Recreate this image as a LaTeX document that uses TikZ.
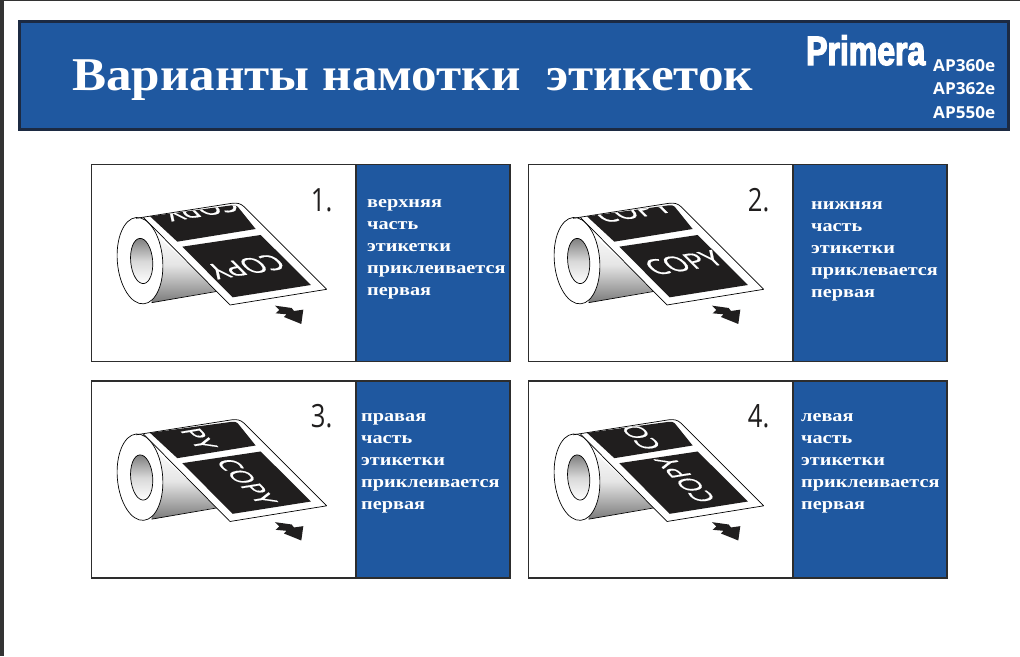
\documentclass[tikz,border=0pt]{standalone}
\usepackage{fontspec}
\setmainfont{Liberation Serif}
\newfontfamily\titlefnt[FakeStretch=1.088]{Liberation Serif}
\newfontfamily\panelfnt[FakeStretch=1.19]{Liberation Serif}
\newfontfamily\brandfnt[FakeStretch=0.78,FakeBold=3]{Liberation Sans}
\newfontfamily\modelfnt[FakeStretch=1.04]{Open Sans}
\newfontfamily\copyfnt[FakeBold=0.6]{Open Sans}
\newfontfamily\numfnt[FakeStretch=0.8]{Open Sans}
\definecolor{bannerblue}{RGB}{31,88,160}
\definecolor{bannerline}{RGB}{28,42,66}
\definecolor{cardline}{RGB}{45,45,45}
\definecolor{labelblack}{RGB}{32,30,30}
\tikzset{
  x=1pt,y=-1pt,
  cardbox/.style={draw=cardline,line width=1.5pt,fill=white,anchor=north west,inner sep=0,minimum width=418pt,minimum height=197pt},
  bluebox/.style={draw=cardline,line width=1.5pt,fill=bannerblue,anchor=north west,inner sep=0,minimum width=154pt,minimum height=197pt},
  paneltext/.style={text=white,anchor=north west,inner sep=0,align=left,font=\panelfnt\bfseries\fontsize{17}{22}\selectfont},
  numtext/.style={text=labelblack,inner sep=0,font=\numfnt\fontsize{32}{32}\selectfont},
  copytext/.style={text=white,inner sep=0,font=\copyfnt\fontsize{28}{28}\selectfont},
  rolline/.style={draw=black,line width=0.7pt},
  modeltext/.style={text=white,anchor=base west,inner sep=0,font=\modelfnt\bfseries\fontsize{16.5}{16.5}\selectfont},
  orientA/.style={cm={-0.987,-0.16,0.707,-0.707,(0,0)}},
  orientB/.style={cm={0.987,0.16,-0.707,0.707,(0,0)}},
  orientC/.style={cm={0.62,-0.62,0.95,0.154,(0,0)}},
  orientD/.style={cm={-0.62,0.62,-0.95,-0.154,(0,0)}},
}
% #1 x origin, #2 y origin, #3 number, #4 orientation, #5 id, #6,#7 main text, #8,#9 clipped text
\newcommand{\rollart}[9]{%
\begin{scope}[shift={(#1,#2)},x=0.3333pt,y=-0.3333pt]
  \path[top color=white,bottom color=black!52,middle color=black!10] (170,200) -- (385,392) -- (185,428) -- cycle;
  \draw[rolline] (185,428) -- (382,394);
  \draw[rolline,fill=white] (150,302) ellipse [x radius=68,y radius=130,rotate=5];
  \draw[rolline,top color=black!50,bottom color=white,middle color=black!15] (155,303) ellipse [x radius=33,y radius=68,rotate=5];
  \draw[rolline,fill=white,line join=round] (138,175) -- (425,130) .. controls (440,128) and (452,130) .. (462,140) -- (710,388) -- (420,435) -- (160,172);
  \fill[labelblack] (180,169) -- (425,136) .. controls (434,135) and (438,136) .. (443,140) -- (497,207) -- (262,245) -- cycle;
  \begin{scope}
    \clip (180,169) -- (425,136) .. controls (434,135) and (438,136) .. (443,140) -- (497,207) -- (262,245) -- cycle;
    \node[copytext,#4] (copytop#5) at (#8,#9) {COPY};
  \end{scope}
  \fill[labelblack] (277,260) -- (512,225) -- (663,375) -- (428,412) -- cycle;
  \node[copytext,#4] (copymain#5) at (#6,#7) {COPY};
  \fill[labelblack] (555,437) -- (605,444) -- (612,453) -- (640,449) -- (634,492) -- (582,471) -- (590,463) -- (557,460) -- (568,450) -- cycle;
  \node[numtext] (num#5) at (695,120) {#3};
\end{scope}}
\begin{document}
\begin{tikzpicture}
\useasboundingbox (0,0) rectangle (1020,656);
\fill[white] (0,0) rectangle (1020,656);
\fill[black!80] (0,0) rectangle (4,656);
\fill[black!80] (0,0) rectangle (1020,1);
\node[draw=bannerline,line width=3pt,fill=bannerblue,anchor=north west,inner sep=0,minimum width=989pt,minimum height=108pt] (banner) at (18,20) {};
\node[text=white,anchor=base west,inner sep=0,font=\titlefnt\bfseries\fontsize{47}{47}\selectfont] (title) at (72,90) {Варианты намотки\ \ этикеток};
\node[text=white,anchor=base west,inner sep=0,font=\brandfnt\bfseries\fontsize{41}{41}\selectfont] (brand) at (806,65) {Primera};
\node[modeltext] (m1) at (933,71) {AP360e};
\node[modeltext] (m2) at (933,94) {AP362e};
\node[modeltext] (m3) at (933,118) {AP550e};

\node[cardbox] (card1) at (90.5,163.5) {};
\node[bluebox] (panel1) at (355,163.5) {};
\node[cardbox] (card2) at (527.5,163.5) {};
\node[bluebox] (panel2) at (792,163.5) {};
\node[cardbox] (card3) at (90.5,380) {};
\node[bluebox] (panel3) at (355,380) {};
\node[cardbox] (card4) at (527.5,380) {};
\node[bluebox] (panel4) at (792,380) {};

\rollart{90}{160}{1.}{orientA}{a}{468}{320}{330}{146}
\rollart{527}{160}{2.}{orientB}{b}{470}{308}{315}{151}
\rollart{90}{376.5}{3.}{orientC}{c}{470}{315}{290}{150}
\rollart{527}{376.5}{4.}{orientD}{d}{475}{310}{312}{152}

\node[paneltext] (t1) at (367,199.5) {верхняя\\часть\\этикетки\\приклеивается\\первая};
\node[paneltext] (t2) at (811,201.5) {нижняя\\часть\\этикетки\\приклевается\\первая};
\node[paneltext] (t3) at (361,413.5) {правая\\часть\\этикетки\\приклеивается\\первая};
\node[paneltext] (t4) at (801,413.5) {левая\\часть\\этикетки\\приклеивается\\первая};
\end{tikzpicture}
\end{document}
